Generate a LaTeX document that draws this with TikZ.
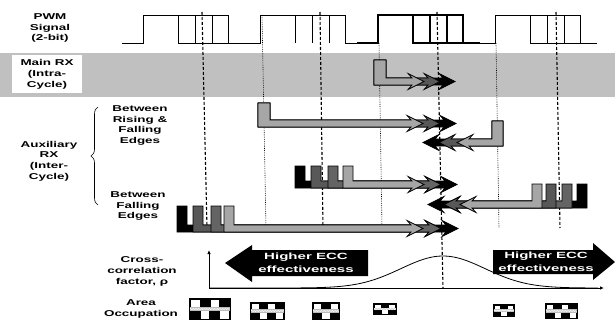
\documentclass[tikz,border=0pt]{standalone}
\usepackage{fontspec}
\setmainfont{Liberation Sans}
\usetikzlibrary{arrows.meta,decorations.pathreplacing,decorations.pathmorphing}
\definecolor{bandgray}{HTML}{C0C0C0}
\definecolor{lg}{HTML}{A6A6A6}
\definecolor{dg}{HTML}{585858}
\definecolor{dgb}{HTML}{646464}
\newcommand\myRarrow[6]{% colour, pulse left x, pulse width, pulse top, bar bottom, tip x
  \filldraw[fill=#1,draw=black,line width=0.7pt,line join=miter]
    (#2,#5) -- (#2,#4) -- ({#2+#3},#4) -- ({#2+#3},{#5-7}) -- ({#6-12},{#5-7})
    -- ({#6-16},{#5-11.5}) -- (#6,{#5-3.5}) -- ({#6-16},{#5+4.5}) -- ({#6-12},#5) -- cycle;}
\newcommand\myLarrow[6]{% colour, pulse left x, pulse width, pulse top, bar bottom, tip x
  \filldraw[fill=#1,draw=black,line width=0.7pt,line join=miter]
    ({#2+#3},#5) -- ({#2+#3},#4) -- (#2,#4) -- (#2,{#5-7}) -- ({#6+12},{#5-7})
    -- ({#6+16},{#5-11.5}) -- (#6,{#5-3.5}) -- ({#6+16},{#5+4.5}) -- ({#6+12},#5) -- cycle;}
\newcommand\myicon[5]{% x y w h ncols
  \fill[black] (#1,#2) rectangle ({#1+#3},{#2+#4});
  \foreach \i in {1,...,#5}{%
    \pgfmathsetmacro\xa{#1+1.5+(\i-1)*(#3-3)/#5+0.6}%
    \pgfmathsetmacro\xb{#1+1.5+\i*(#3-3)/#5-0.6}%
    \ifodd\i
      \fill[white] (\xa,{#2+1.5}) rectangle (\xb,{#2+#4*0.42});
    \else
      \fill[white] (\xa,{#2+#4*0.58}) rectangle (\xb,{#2+#4-1.5});
    \fi}
  \fill[gray!55] ({#1+1},{#2+#4*0.4}) rectangle ({#1+#3-1},{#2+#4*0.6});
  \draw[white,line width=0.4pt,decorate,decoration={zigzag,segment length=1.6pt,amplitude=0.7pt}]
    ({#1+1},{#2+#4*0.5}) -- ({#1+#3-1},{#2+#4*0.5});
}
\begin{document}
\begin{tikzpicture}[x=1pt,y=-1pt,
  lab/.style={font=\fontsize{8.5}{10.7}\selectfont\bfseries,align=center,xscale=1.58,inner sep=0pt},
  arrtxt/.style={font=\fontsize{9}{13}\selectfont\bfseries,text=white,align=center,xscale=1.67,inner sep=0pt},
  sig/.style={line width=0.8pt,line join=miter},
  sigthick/.style={line width=1.6pt,line join=miter},
  dsh/.style={line width=1.1pt,dash pattern=on 3pt off 2pt},
  dtt/.style={line width=0.6pt,dash pattern=on 0.8pt off 1pt}]
\useasboundingbox (0,0) rectangle (615,321);
\fill[white] (0,0) rectangle (615,321);
% main RX band
\fill[bandgray] (0,53) rectangle (615,97);
\fill[white] (12,55) rectangle (82,93);
% vertical reference lines
\draw[dsh] (202,12) -- (207,228);
\draw[dsh] (320,12) -- (323,228);
\draw[dsh] (437,12) -- (443,288);
\draw[dsh] (556,12) -- (560,228);
\draw[dtt] (262,15) -- (266,228);
\draw[dtt] (379,43) -- (382,228);
\draw[dtt] (496,43) -- (499,228);
% PWM signal
\draw[sig] (122,43) -- (143,43) -- (143,15) -- (228,15) -- (228,43);
\draw[sig] (178,15) -- (178,43) -- (260.5,43) -- (260.5,15) -- (345.5,15) -- (345.5,43) -- (357,43);
\draw[sig] (195,15) -- (195,43) (212,15) -- (212,43);
\draw[sig] (295.5,15) -- (295.5,43) (312.5,15) -- (312.5,43) (329.5,15) -- (329.5,43);
\draw[sigthick] (357,43) -- (378,43) -- (378,15) -- (463,15) -- (463,43) -- (480,43);
\draw[sigthick] (413,15) -- (413,43) -- (463,43) (430,15) -- (430,43) (447,15) -- (447,43);
\draw[sig] (480,43) -- (495,43) -- (495,15) -- (580,15) -- (580,43) -- (597,43);
\draw[sig] (530,15) -- (530,43) -- (580,43) (547,15) -- (547,43) (564,15) -- (564,43);
% row 1: main RX
\myRarrow{black}{374}{12}{60}{85}{455}
\myRarrow{dg}{374}{12}{60}{85}{440}
\myRarrow{lg}{374}{12}{60}{85}{424}
% row 2: rising to falling
\myRarrow{black}{258}{12}{103}{127}{456}
\myRarrow{dg}{258}{12}{103}{127}{440}
\myRarrow{lg}{258}{12}{103}{127}{423}
% row 3: leftward
\myLarrow{black}{492}{11}{121}{146}{423}
\myLarrow{dg}{492}{11}{121}{146}{439}
\myLarrow{lg}{492}{11}{121}{146}{457}
% row 4: falling edges, rightward
\myRarrow{black}{295}{10}{166}{188}{457}
\myRarrow{dg}{311}{10}{166}{188}{441}
\myRarrow{dgb}{328}{10}{166}{188}{441}
\myRarrow{lg}{343}{10}{166}{188}{424}
% row 5: falling edges, leftward
\myLarrow{black}{577}{10}{184}{208}{428}
\myLarrow{dgb}{562}{10}{184}{208}{444}
\myLarrow{dg}{546}{10}{184}{208}{444}
\myLarrow{lg}{532}{10}{184}{208}{460}
% row 6: falling edges, rightward
\myRarrow{black}{177}{10}{206}{232}{458}
\myRarrow{dg}{193}{10}{206}{232}{441}
\myRarrow{dgb}{211}{10}{206}{232}{441}
\myRarrow{lg}{224}{10}{206}{232}{423}
% labels
\node[lab] (pwm) at (50,28) {PWM\\Signal\\(2-bit)};
\node[lab] (mainrx) at (47,74.5) {Main RX\\(Intra-\\Cycle)};
\node[lab] (aux) at (49,161) {Auxiliary\\RX\\(Inter-\\Cycle)};
\node[lab] (rf) at (140,125.5) {Between\\Rising \&\\Falling\\Edges};
\node[lab] (ff) at (138,206) {Between\\Falling\\Edges};
\node[lab] (cc) at (142,271.5) {Cross-\\correlation\\factor, ρ};
\node[lab] (area) at (141,309) {Area\\Occupation};
\draw[line width=0.6pt,decorate,decoration={brace,amplitude=7pt}] (98,205) -- (98,107);
% cross-correlation plot
\coordinate (org) at (209,288);
\coordinate (ytop) at (209,250);
\coordinate (xend) at (604,288);
\draw[line width=0.9pt,-{Latex[length=4pt,width=3.5pt]}] (org) -- (ytop);
\draw[line width=0.9pt,-{Latex[length=4pt,width=3.5pt]}] (org) -- (xend);
\draw[line width=0.8pt,domain=209:598,samples=120,smooth]
  plot (\x,{288-32*exp(-0.5*((\x-443)/42)*((\x-443)/42))});
% big arrows
\fill[black] (225,263) -- (252,245) -- (252,250) -- (368,250) -- (368,276) -- (252,276) -- (252,282) -- cycle;
\fill[black] (493,250) -- (593,250) -- (593,243) -- (615,262) -- (593,280) -- (593,274) -- (493,274) -- cycle;
\node[arrtxt] (ecl) at (306,263) {Higher ECC\\effectiveness};
\node[arrtxt] (ecr) at (546,262) {Higher ECC\\effectiveness};
% area occupation icons
\myicon{189}{298}{42}{22}{4}
\myicon{250}{302}{35}{18}{4}
\myicon{312}{302}{28}{18}{3}
\myicon{373}{303}{24}{12}{3}
\myicon{493}{304}{22}{13}{3}
\myicon{545}{303}{33}{16}{4}
\end{tikzpicture}
\end{document}
